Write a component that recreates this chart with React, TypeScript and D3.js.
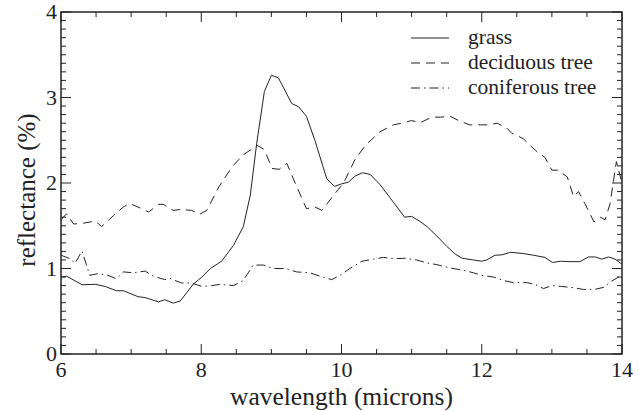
import React, { useEffect, useRef } from "react";
import * as d3 from "d3";

const grassX = [6.0, 6.08, 6.3, 6.49, 6.63, 6.79, 6.89, 7.1, 7.2, 7.39, 7.48, 7.6, 7.7, 7.89, 8.01, 8.13, 8.29, 8.46, 8.6, 8.7, 8.79, 8.9, 9.0, 9.1, 9.29, 9.39, 9.5, 9.62, 9.79, 9.9, 10.0, 10.1, 10.19, 10.3, 10.41, 10.55, 10.69, 10.9, 11.0, 11.12, 11.22, 11.36, 11.5, 11.62, 11.72, 11.88, 12.0, 12.07, 12.19, 12.29, 12.41, 12.59, 12.74, 12.9, 13.01, 13.12, 13.26, 13.4, 13.52, 13.62, 13.71, 13.81, 13.9, 14.0];
const grassY = [0.9, 0.91, 0.81, 0.815, 0.79, 0.74, 0.74, 0.67, 0.66, 0.61, 0.635, 0.595, 0.62, 0.82, 0.9, 1.0, 1.085, 1.27, 1.49, 1.86, 2.46, 3.07, 3.26, 3.23, 2.93, 2.89, 2.78, 2.5, 2.05, 1.96, 1.99, 2.01, 2.08, 2.12, 2.1, 1.98, 1.83, 1.6, 1.61, 1.55, 1.49, 1.38, 1.26, 1.17, 1.12, 1.1, 1.085, 1.1, 1.155, 1.16, 1.19, 1.175, 1.155, 1.13, 1.07, 1.085, 1.08, 1.08, 1.135, 1.135, 1.11, 1.135, 1.11, 1.05];

const decidX = [6.0, 6.08, 6.18, 6.32, 6.49, 6.58, 6.75, 6.89, 6.98, 7.15, 7.25, 7.39, 7.46, 7.6, 7.7, 7.86, 7.98, 8.08, 8.24, 8.44, 8.6, 8.8, 8.9, 9.01, 9.11, 9.22, 9.36, 9.5, 9.62, 9.72, 9.91, 10.03, 10.19, 10.34, 10.55, 10.74, 10.86, 11.0, 11.12, 11.29, 11.41, 11.55, 11.67, 11.83, 11.98, 12.1, 12.22, 12.36, 12.43, 12.59, 12.69, 12.81, 12.9, 13.0, 13.09, 13.22, 13.31, 13.38, 13.47, 13.6, 13.69, 13.76, 13.83, 13.92, 14.0];
const decidY = [1.57, 1.64, 1.52, 1.53, 1.555, 1.49, 1.62, 1.72, 1.76, 1.7, 1.66, 1.75, 1.75, 1.68, 1.69, 1.68, 1.635, 1.68, 1.94, 2.19, 2.33, 2.44, 2.39, 2.17, 2.16, 2.23, 1.96, 1.7, 1.72, 1.68, 1.88, 2.0, 2.27, 2.44, 2.6, 2.68, 2.7, 2.73, 2.705, 2.77, 2.77, 2.78, 2.73, 2.68, 2.68, 2.68, 2.7, 2.64, 2.58, 2.52, 2.44, 2.35, 2.3, 2.15, 2.15, 2.07, 1.84, 1.9, 1.76, 1.545, 1.6, 1.57, 1.76, 2.25, 2.0];

const conifX = [6.0, 6.13, 6.2, 6.3, 6.41, 6.53, 6.67, 6.79, 6.89, 7.03, 7.2, 7.32, 7.48, 7.55, 7.72, 7.86, 8.01, 8.15, 8.27, 8.46, 8.6, 8.74, 8.89, 9.03, 9.2, 9.36, 9.55, 9.69, 9.86, 9.98, 10.12, 10.29, 10.46, 10.6, 10.74, 10.91, 11.07, 11.22, 11.36, 11.55, 11.74, 11.88, 12.0, 12.17, 12.31, 12.45, 12.64, 12.76, 12.88, 13.0, 13.14, 13.31, 13.45, 13.61, 13.74, 13.83, 13.95, 14.0];
const conifY = [1.155, 1.115, 1.06, 1.205, 0.92, 0.94, 0.92, 0.88, 0.96, 0.95, 0.97, 0.91, 0.87, 0.885, 0.83, 0.83, 0.79, 0.8, 0.815, 0.8, 0.86, 1.04, 1.04, 1.0, 1.0, 0.96, 0.95, 0.91, 0.87, 0.92, 1.0, 1.085, 1.11, 1.13, 1.115, 1.12, 1.1, 1.065, 1.045, 1.005, 0.98, 0.95, 0.92, 0.9, 0.86, 0.835, 0.835, 0.815, 0.765, 0.8, 0.79, 0.775, 0.755, 0.755, 0.78, 0.84, 0.9, 0.93];

const seriesNames = ["grass", "deciduous tree", "coniferous tree"];
const dashes = ["none", "9,6", "9,4,1.5,4"];
const xTicks = [6, 8, 10, 12, 14];
const yTicks = [0, 1, 2, 3, 4];

export default function App() {
  const ref = useRef<SVGSVGElement>(null);
  useEffect(() => {
    const svg = d3.select(ref.current);
    svg.selectAll("*").remove();
    const L = 61, R = 622, T = 12, B = 354;
    const x = d3.scaleLinear().domain([6, 14]).range([L, R]);
    const y = d3.scaleLinear().domain([0, 4]).range([B, T]);
    const font = "Liberation Serif, Times New Roman, serif";
    const ink = "#222";

    const g = svg.append("g");
    const xMinor = d3.range(6, 14.001, 0.5);
    const yMinor = d3.range(0, 4.001, 0.1);
    xMinor.forEach((v) => {
      const major = Math.abs(v - Math.round(v / 2) * 2) < 1e-6;
      const len = major ? 10 : 5;
      g.append("line").attr("x1", x(v)).attr("x2", x(v)).attr("y1", B).attr("y2", B - len).attr("stroke", ink).attr("stroke-width", 1);
      g.append("line").attr("x1", x(v)).attr("x2", x(v)).attr("y1", T).attr("y2", T + len).attr("stroke", ink).attr("stroke-width", 1);
    });
    yMinor.forEach((v) => {
      const major = Math.abs(v - Math.round(v)) < 1e-6;
      const len = major ? 10 : 5;
      g.append("line").attr("y1", y(v)).attr("y2", y(v)).attr("x1", L).attr("x2", L + len).attr("stroke", ink).attr("stroke-width", 1);
      g.append("line").attr("y1", y(v)).attr("y2", y(v)).attr("x1", R).attr("x2", R - len).attr("stroke", ink).attr("stroke-width", 1);
    });
    g.append("rect").attr("x", L).attr("y", T).attr("width", R - L).attr("height", B - T).attr("fill", "none").attr("stroke", ink).attr("stroke-width", 1.5);

    xTicks.forEach((v) => {
      g.append("text").attr("x", x(v)).attr("y", B + 23).attr("text-anchor", "middle").style("font-family", font).style("font-size", "22px").attr("fill", ink).text(String(v));
    });
    yTicks.forEach((v) => {
      g.append("text").attr("x", L - 4).attr("y", y(v) + 7).attr("text-anchor", "end").style("font-family", font).style("font-size", "22px").attr("fill", ink).text(String(v));
    });
    g.append("text").attr("x", (L + R) / 2).attr("y", 405).attr("text-anchor", "middle").style("font-family", font).style("font-size", "25.5px").attr("fill", ink).text("wavelength (microns)");
    g.append("text").attr("transform", `translate(35, 190) rotate(-90)`).attr("text-anchor", "middle").style("font-family", font).style("font-size", "25px").attr("fill", ink).text("reflectance (%)");

    const data = [
      grassX.map((v, i) => [v, grassY[i]]),
      decidX.map((v, i) => [v, decidY[i]]),
      conifX.map((v, i) => [v, conifY[i]]),
    ];
    const line = d3.line<number[]>().x((d) => x(d[0])).y((d) => y(d[1]));
    data.forEach((d, i) => {
      svg.append("path").attr("d", line(d) as string).attr("fill", "none").attr("stroke", ink).attr("stroke-width", 1).attr("stroke-dasharray", dashes[i]);
    });

    const ly = [38, 63, 88];
    seriesNames.forEach((n, i) => {
      svg.append("line").attr("x1", 411).attr("x2", 449).attr("y1", ly[i]).attr("y2", ly[i]).attr("stroke", ink).attr("stroke-width", 1).attr("stroke-dasharray", dashes[i]);
      svg.append("text").attr("x", 468).attr("y", ly[i] + 6).style("font-family", font).style("font-size", "21.5px").attr("fill", ink).text(n);
    });
  }, []);
  return <svg ref={ref} width={638} height={411} style={{ position: "absolute", left: 0, top: 0 }} />;
}
